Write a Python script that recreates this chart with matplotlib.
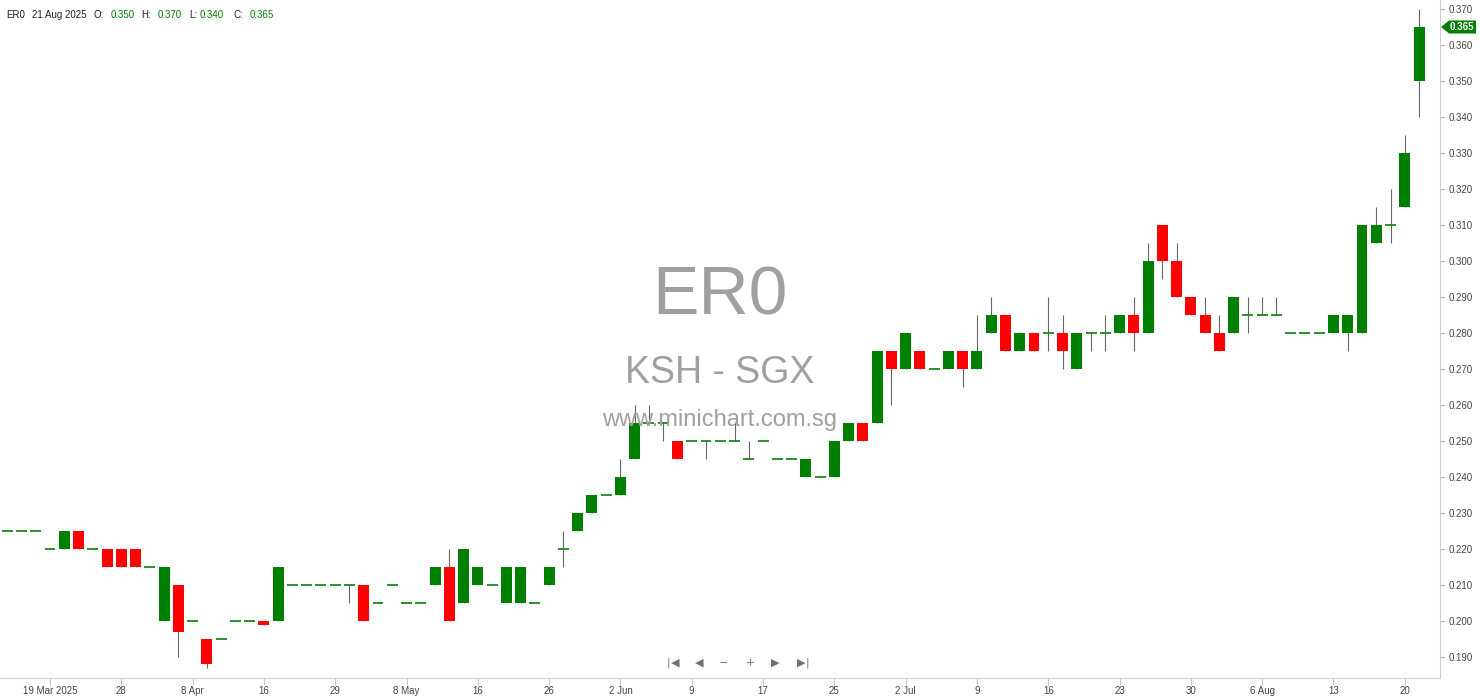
import numpy as np
import matplotlib.pyplot as plt
from matplotlib.patches import Polygon
from matplotlib.transforms import IdentityTransform

plt.rcParams['font.family'] = ['Liberation Sans', 'DejaVu Sans']

# daily bars (only days with trades), 21 Aug 2025 is the last one
opens = [0.225, 0.225, 0.225, 0.220, 0.220, 0.225, 0.220, 0.220, 0.220, 0.220,
         0.215, 0.200, 0.210, 0.200, 0.195, 0.195, 0.200, 0.200, 0.200, 0.200,
         0.210, 0.210, 0.210, 0.210, 0.210, 0.210, 0.205, 0.210, 0.205, 0.205,
         0.210, 0.215, 0.205, 0.210, 0.210, 0.205, 0.205, 0.205, 0.210, 0.220,
         0.225, 0.230, 0.235, 0.235, 0.245, 0.255, 0.255, 0.250, 0.250, 0.250,
         0.250, 0.250, 0.245, 0.250, 0.245, 0.245, 0.240, 0.240, 0.240, 0.250,
         0.255, 0.255, 0.275, 0.270, 0.275, 0.270, 0.270, 0.275, 0.270, 0.280,
         0.285, 0.275, 0.280, 0.280, 0.280, 0.270, 0.280, 0.280, 0.280, 0.285,
         0.280, 0.310, 0.300, 0.290, 0.285, 0.280, 0.280, 0.285, 0.285, 0.285,
         0.280, 0.280, 0.280, 0.280, 0.280, 0.280, 0.305, 0.310, 0.315, 0.350]
highs = [0.225, 0.225, 0.225, 0.220, 0.225, 0.225, 0.220, 0.220, 0.220, 0.220,
         0.215, 0.215, 0.210, 0.200, 0.195, 0.195, 0.200, 0.200, 0.200, 0.215,
         0.210, 0.210, 0.210, 0.210, 0.210, 0.210, 0.205, 0.210, 0.205, 0.205,
         0.215, 0.220, 0.220, 0.215, 0.210, 0.215, 0.215, 0.205, 0.215, 0.225,
         0.230, 0.235, 0.235, 0.245, 0.260, 0.260, 0.255, 0.250, 0.250, 0.250,
         0.250, 0.255, 0.250, 0.250, 0.245, 0.245, 0.245, 0.240, 0.250, 0.255,
         0.255, 0.275, 0.275, 0.280, 0.275, 0.270, 0.275, 0.275, 0.285, 0.290,
         0.285, 0.280, 0.280, 0.290, 0.285, 0.280, 0.280, 0.285, 0.285, 0.290,
         0.305, 0.310, 0.305, 0.290, 0.290, 0.285, 0.290, 0.290, 0.290, 0.290,
         0.280, 0.280, 0.280, 0.285, 0.285, 0.310, 0.315, 0.320, 0.335, 0.370]
lows = [0.225, 0.225, 0.225, 0.220, 0.220, 0.220, 0.220, 0.215, 0.215, 0.215,
        0.215, 0.200, 0.190, 0.200, 0.187, 0.195, 0.200, 0.200, 0.199, 0.200,
        0.210, 0.210, 0.210, 0.210, 0.205, 0.200, 0.205, 0.210, 0.205, 0.205,
        0.210, 0.200, 0.205, 0.210, 0.210, 0.205, 0.205, 0.205, 0.210, 0.215,
        0.225, 0.230, 0.235, 0.235, 0.245, 0.255, 0.250, 0.245, 0.250, 0.245,
        0.250, 0.250, 0.245, 0.250, 0.245, 0.245, 0.240, 0.240, 0.240, 0.250,
        0.250, 0.255, 0.260, 0.270, 0.270, 0.270, 0.270, 0.265, 0.270, 0.280,
        0.275, 0.275, 0.275, 0.275, 0.270, 0.270, 0.275, 0.275, 0.280, 0.275,
        0.280, 0.295, 0.290, 0.285, 0.280, 0.275, 0.280, 0.280, 0.285, 0.285,
        0.280, 0.280, 0.280, 0.280, 0.275, 0.280, 0.305, 0.305, 0.315, 0.340]
closes = [0.225, 0.225, 0.225, 0.220, 0.225, 0.220, 0.220, 0.215, 0.215, 0.215,
          0.215, 0.215, 0.197, 0.200, 0.188, 0.195, 0.200, 0.200, 0.199, 0.215,
          0.210, 0.210, 0.210, 0.210, 0.210, 0.200, 0.205, 0.210, 0.205, 0.205,
          0.215, 0.200, 0.220, 0.215, 0.210, 0.215, 0.215, 0.205, 0.215, 0.220,
          0.230, 0.235, 0.235, 0.240, 0.255, 0.255, 0.255, 0.245, 0.250, 0.250,
          0.250, 0.250, 0.245, 0.250, 0.245, 0.245, 0.245, 0.240, 0.250, 0.255,
          0.250, 0.275, 0.270, 0.280, 0.270, 0.270, 0.275, 0.270, 0.275, 0.285,
          0.275, 0.280, 0.275, 0.280, 0.275, 0.280, 0.280, 0.280, 0.285, 0.280,
          0.300, 0.300, 0.290, 0.285, 0.280, 0.275, 0.290, 0.285, 0.285, 0.285,
          0.280, 0.280, 0.280, 0.285, 0.285, 0.310, 0.310, 0.310, 0.330, 0.365]

tick_bars = [3, 8, 13, 18, 23, 28, 33, 38, 43, 48, 53, 58, 63, 68, 73, 78, 83, 88, 93, 98]
tick_labels = ['19 Mar 2025', '28', '8 Apr', '16', '29', '8 May', '16', '26', '2 Jun', '9',
               '17', '25', '2 Jul', '9', '16', '23', '30', '6 Aug', '13', '20']
price_ticks = [0.190, 0.200, 0.210, 0.220, 0.230, 0.240, 0.250, 0.260, 0.270,
               0.280, 0.290, 0.300, 0.310, 0.320, 0.330, 0.340, 0.350, 0.360, 0.370]

GREEN = '#008000'
RED = '#ff0000'
W = 0.77

fig = plt.figure(figsize=(14.8, 6.99), dpi=100)
ax = fig.add_axes([0, 1 - 678 / 699, 1440 / 1480, 678 / 699])

#Candles
for i in range(len(opens)):
    o, h, l, c = opens[i], highs[i], lows[i], closes[i]
    ax.vlines(i, l, h, color='#666666', linewidth=0.8, zorder=2)
    if o == c:
        ax.hlines(o, i - W / 2, i + W / 2, color='#1a8a1a', linewidth=1.3, zorder=3)
    else:
        col = GREEN if c > o else RED
        ax.bar(i, abs(c - o), bottom=min(o, c), width=W, color=col,
               linewidth=0, zorder=3)

ax.set_xlim(-0.506, 100.47)
ax.set_ylim(0.18417, 0.3725)

ax.set_xticks(tick_bars)
ax.set_xticklabels(tick_labels)
ax.set_yticks(price_ticks)
ax.set_yticklabels(['%.3f' % p for p in price_ticks])
ax.yaxis.tick_right()
ax.tick_params(axis='x', length=5, color='#c8c8c8', labelcolor='#444444',
               labelsize=7, pad=1)
ax.tick_params(axis='y', length=3, color='#aaaaaa', labelcolor='#444444',
               labelsize=7, pad=3)
for s in ['top', 'left']:
    ax.spines[s].set_visible(False)
for s in ['right', 'bottom']:
    ax.spines[s].set_color('#d0d0d0')

#Watermark
ax.text(0.5, 1 - 297 / 678, 'ER0', transform=ax.transAxes, ha='center', va='center',
        fontsize=50, color='#a0a0a0', zorder=1)
ax.text(0.5, 1 - 373 / 678, 'KSH - SGX', transform=ax.transAxes, ha='center',
        va='center', fontsize=27, color='#a0a0a0', zorder=1)
ax.text(0.5, 1 - 420 / 678, 'www.minichart.com.sg', transform=ax.transAxes,
        ha='center', va='center', fontsize=17, color='#a0a0a0', zorder=4)

#Header
y_head = 1 - 15 / 699
head = [(6, 'ER0', '#222222'), (32, '21 Aug 2025', '#222222'), (94, 'O:', '#222222'),
        (111, '0.350', GREEN), (141, 'H:', '#222222'), (158, '0.370', GREEN),
        (189, 'L:', '#222222'), (200, '0.340', GREEN), (233, 'C:', '#222222'),
        (250, '0.365', GREEN)]
for x, t, col in head:
    fig.text(x / 1480, y_head, t, fontsize=7, color=col, va='center')

#Last price tag
fig.canvas.draw()
yc = ax.transData.transform((0, closes[-1]))[1]
tag = Polygon([(1441, yc), (1449, yc + 6.5), (1476, yc + 6.5), (1476, yc - 6.5),
               (1449, yc - 6.5)], closed=True, transform=IdentityTransform(),
              facecolor=GREEN, edgecolor='none')
fig.patches.append(tag)
fig.text(1462 / 1480, yc / 699, '%.3f' % closes[-1], fontsize=7, color='white',
         fontweight='bold', ha='center', va='center')

#Navigation buttons
y_nav = 1 - 663 / 699
nav = [(668, '|'), (675, '◀'), (699, '◀'), (724, '−'), (750, '+'), (775, '▶'),
       (801, '▶'), (807, '|')]
for x, t in nav:
    fig.text(x / 1480, y_nav, t, fontsize=8, color='#707070', ha='center',
             va='center', family=['DejaVu Sans'])

fig.savefig('out.png', dpi=100)
